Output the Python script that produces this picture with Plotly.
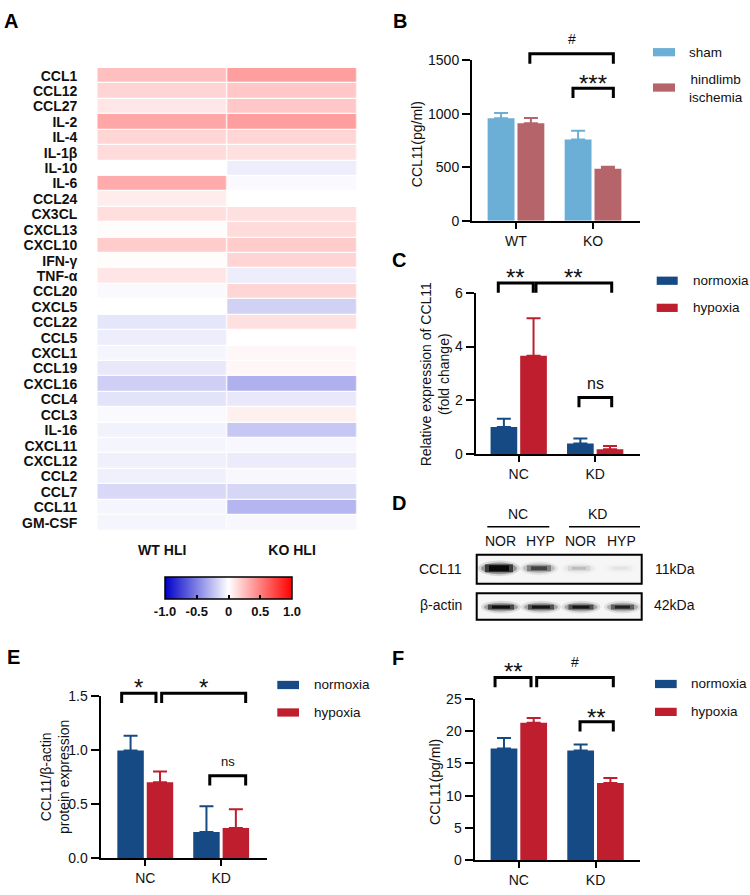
import plotly.graph_objects as go

W, H = 750, 895
FONT = "Liberation Sans, Arial, sans-serif"

# ---------------- DATA ----------------
cytokines = ["CCL1", "CCL12", "CCL27", "IL-2", "IL-4", "IL-1β", "IL-10", "IL-6", "CCL24", "CX3CL",
             "CXCL13", "CXCL10", "IFN-γ", "TNF-α", "CCL20", "CXCL5", "CCL22", "CCL5", "CXCL1", "CCL19",
             "CXCL16", "CCL4", "CCL3", "IL-16", "CXCL11", "CXCL12", "CCL2", "CCL7", "CCL11", "GM-CSF"]
wt_hli = [0.25, 0.17, 0.10, 0.35, 0.16, 0.14, 0.00, 0.33, 0.07, 0.13,
          0.01, 0.20, 0.01, 0.10, -0.02, 0.00, -0.10, -0.07, -0.04, -0.09,
          -0.19, -0.11, -0.02, -0.05, -0.04, -0.06, -0.06, -0.15, -0.04, -0.04]
ko_hli = [0.38, 0.22, 0.22, 0.38, 0.16, 0.12, -0.07, -0.02, 0.00, 0.12,
          0.14, 0.20, 0.17, -0.07, 0.16, -0.18, 0.12, 0.00, 0.03, 0.03,
          -0.31, -0.09, 0.06, -0.22, -0.03, -0.08, -0.03, -0.16, -0.29, -0.03]
heat_cols = ["WT HLI", "KO HLI"]
cbar_ticks = [-1.0, -0.5, 0, 0.5, 1.0]
cbar_labels = ["-1.0", "-0.5", "0", "0.5", "1.0"]

b_groups = ["WT", "KO"]
b_sham_mean = [959, 760]
b_sham_err = [49, 82]
b_hli_mean = [913, 487]
b_hli_err = [49, 18]

c_groups = ["NC", "KD"]
c_norm_mean = [1.00, 0.39]
c_norm_err = [0.31, 0.18]
c_hyp_mean = [3.66, 0.17]
c_hyp_err = [1.39, 0.12]

d_groups = ["NC", "KD"]
d_lanes = ["NOR", "HYP", "NOR", "HYP"]
d_ccl11_band = [1.00, 0.55, 0.13, 0.04]
d_actin_band = [0.92, 0.85, 0.85, 0.75]

e_groups = ["NC", "KD"]
e_norm_mean = [1.00, 0.243]
e_norm_err = [0.136, 0.24]
e_hyp_mean = [0.705, 0.28]
e_hyp_err = [0.10, 0.175]

f_groups = ["NC", "KD"]
f_norm_mean = [17.3, 17.0]
f_norm_err = [1.63, 0.90]
f_hyp_mean = [21.3, 11.97]
f_hyp_err = [0.70, 0.76]

# ---------------- STYLE ----------------
SHAM = "#6BAED6"
HLI = "#B5646A"
NORM = "#164A84"
HYP = "#BE1E2D"


def px(x):
    return x / W


def py(y):
    return 1 - y / H


panels = {
    "B": dict(n=2, xd=(472, 640), yd=(53.3, 216.7), xr=(-0.571, 1.61), yr=(0, 1500), tv=[0, 500, 1000, 1500], fmt=""),
    "C": dict(n=3, xd=(475.5, 640), yd=(290, 454), xr=(-0.565, 1.586), yr=(0, 6), tv=[0, 2, 4, 6], fmt=""),
    "E": dict(n=4, xd=(100.5, 266.7), yd=(701, 865.7), xr=(-0.590, 1.6), yr=(0, 1.5), tv=[0, 0.5, 1, 1.5], fmt=".1f"),
    "F": dict(n=5, xd=(474.5, 640), yd=(703.3, 867.7), xr=(-0.578, 1.58), yr=(0, 25), tv=[0, 5, 10, 15, 20, 25], fmt=""),
}


def to_px(pid, xv, yv):
    p = panels[pid]
    x0, x1 = p["xd"]
    r0, r1 = p["xr"]
    ytop, ybot = p["yd"]
    s0, s1 = p["yr"]
    X = x0 + (xv - r0) / (r1 - r0) * (x1 - x0)
    Y = ybot - (yv - s0) / (s1 - s0) * (ybot - ytop)
    return X, Y


fig = go.Figure()
shapes = []
annotations = []


def text(x, y, s, size=14, xanchor="center", yanchor="middle", bold=False, angle=0, color="#111111"):
    annotations.append(dict(x=px(x), y=py(y), xref="paper", yref="paper", text=s, showarrow=False,
                            xanchor=xanchor, yanchor=yanchor, textangle=angle,
                            font=dict(family=FONT, size=size, color=color, weight="bold" if bold else "normal")))


def rect(x0, y0, x1, y1, fill=None, line=None, lw=0, opacity=1.0, kind="rect"):
    shapes.append(dict(type=kind, xref="paper", yref="paper", x0=px(x0), x1=px(x1), y0=py(y0), y1=py(y1),
                       fillcolor=fill if fill else "rgba(0,0,0,0)",
                       line=dict(color=line if line else "rgba(0,0,0,0)", width=lw), opacity=opacity))


def line(x0, y0, x1, y1, lw=1.5, color="black"):
    shapes.append(dict(type="line", xref="paper", yref="paper", x0=px(x0), x1=px(x1), y0=py(y0), y1=py(y1),
                       line=dict(color=color, width=lw)))


# ---------------- A: heatmap ----------------
fig.add_trace(go.Heatmap(
    z=[[w, k] for w, k in zip(wt_hli, ko_hli)],
    x=heat_cols, y=cytokines,
    colorscale=[[0, "#0000C8"], [0.5, "#FFFFFF"], [1, "#FF0000"]],
    zmin=-1, zmax=1, xgap=1.2, ygap=1.2,
    xaxis="x", yaxis="y",
    colorbar=dict(orientation="h", x=px(228.5), xanchor="center", y=py(579), yanchor="top",
                  len=127, lenmode="pixels", thickness=22, thicknessmode="pixels",
                  outlinewidth=1.5, outlinecolor="black", xpad=0, ypad=0,
                  tickvals=cbar_ticks, ticktext=cbar_labels, ticks="inside", ticklen=4,
                  tickwidth=1.5, tickcolor="black",
                  tickfont=dict(family=FONT, size=13, color="#111111", weight="bold")),
))


# ---------------- bar panels ----------------
def add_bars(pid, groups, series):
    n = panels[pid]["n"]
    for mean, err, color in series:
        fig.add_trace(go.Bar(
            x=groups, y=mean, marker=dict(color=color, line=dict(width=0)),
            error_y=dict(type="data", symmetric=False, array=err, arrayminus=[0] * len(err),
                         color=color, thickness=2, width=7),
            xaxis=f"x{n}", yaxis=f"y{n}", showlegend=False))


add_bars("B", b_groups, [(b_sham_mean, b_sham_err, SHAM), (b_hli_mean, b_hli_err, HLI)])
add_bars("C", c_groups, [(c_norm_mean, c_norm_err, NORM), (c_hyp_mean, c_hyp_err, HYP)])
add_bars("E", e_groups, [(e_norm_mean, e_norm_err, NORM), (e_hyp_mean, e_hyp_err, HYP)])
add_bars("F", f_groups, [(f_norm_mean, f_norm_err, NORM), (f_hyp_mean, f_hyp_err, HYP)])

# significance brackets: (panel, x0, x1, y_top (data), label, font size, glyph gap px)
brackets = [
    ("B", 0.18, 1.264, 1561, "#", 14, 14.7),
    ("B", 0.74, 1.264, 1239, "***", 24, 10.7),
    ("C", -0.267, 0.19, 6.37, "**", 24, 11),
    ("C", 0.226, 1.216, 6.37, "**", 24, 11),
    ("C", 0.788, 1.216, 2.10, "ns", 16, 12.7),
    ("E", -0.311, 0.141, 1.53, "*", 24, 11.7),
    ("E", 0.216, 1.323, 1.53, "*", 24, 11.7),
    ("E", 0.85, 1.323, 0.765, "ns", 13, 13.4),
    ("F", -0.31, 0.159, 28.3, "**", 24, 11.7),
    ("F", 0.233, 1.232, 28.3, "#", 14, 15.7),
    ("F", 0.798, 1.232, 21.45, "**", 24, 10),
]
corr = {"*": 0.226, "#": 0.0, "n": -0.087}
for pid, a, b, yt, lab, fs, gap in brackets:
    X0, Y = to_px(pid, a, yt)
    X1, _ = to_px(pid, b, yt)
    leg = 10
    path = f"M{px(X0)},{py(Y + leg)} L{px(X0)},{py(Y)} L{px(X1)},{py(Y)} L{px(X1)},{py(Y + leg)}"
    shapes.append(dict(type="path", xref="paper", yref="paper", path=path,
                       line=dict(color="black", width=3)))
    gy = Y - gap + corr[lab[0]] * fs
    text((X0 + X1) / 2, gy, lab, size=fs)

# legends (manual swatches)
legends = [
    (653, 675, 687, [(45, "sham", SHAM, 45), (81, "hindlimb<br>ischemia", HLI, 82)]),
    (656.7, 677.7, 690.7, [(277.7, "normoxia", NORM, 277.7), (305.3, "hypoxia", HYP, 305.3)]),
    (277.3, 299, 311.7, [(689.3, "normoxia", NORM, 689.3), (717.3, "hypoxia", HYP, 717.3)]),
    (655, 676.7, 689, [(688.3, "normoxia", NORM, 688.3), (716.7, "hypoxia", HYP, 716.7)]),
]
for x0, x1, tx, items in legends:
    for ys, lab, col, ty in items:
        rect(x0, ys - 4.2, x1, ys + 4.2, fill=col)
        text(tx, ty, lab, size=13.5, xanchor="left")

# axis titles
text(416.7, 139, "CCL11(pg/ml)", size=14, angle=-90)
text(435, 373, "Relative expression of CCL11<br>(fold change)", size=14, angle=-90)
text(55, 783, "CCL11/β-actin<br>protein expression", size=14, angle=-90)
text(435, 788, "CCL11(pg/ml)", size=14, angle=-90)

# ---------------- D: western blot ----------------
lane_x = [500, 540, 580, 621.5]
text(518.3, 515, d_groups[0], size=14)
text(597.3, 515, d_groups[1], size=14)
line(487.3, 528.3, 549.3, 528.3, 1.5)
line(569, 528.3, 640, 528.3, 1.5)
for xc, lab in zip(lane_x, d_lanes):
    text(xc, 542.7, lab, size=14)
text(464, 571.7, "CCL11", size=14, xanchor="right")
text(464, 608.3, "β-actin", size=14, xanchor="right")
text(653, 571.7, "11kDa", size=14, xanchor="left")
text(652, 608.3, "42kDa", size=14, xanchor="left")

boxes = [(556.7, 586.3), (596, 623)]
for y0, y1 in boxes:
    rect(476.7, y0, 641.7, y1, fill="#F6F6F6")


def band(xc, yc, w, h, inten):
    layers = [(w + 10, h + 8, 0.12, "circle"), (w + 4, h + 4, 0.30, "circle"),
              (w - 4, h, 0.60, "rect"), (w - 12, h - 2, 0.85, "rect")]
    for lw, lh, a, kind in layers:
        rect(xc - lw / 2, yc - lh / 2, xc + lw / 2, yc + lh / 2,
             fill="#000000", opacity=min(1.0, a * inten), kind=kind)


ccl11_w = [32, 28, 26, 26]
ccl11_h = [8, 6, 5, 5]
for xc, w, h, inten in zip(lane_x, ccl11_w, ccl11_h, d_ccl11_band):
    band(xc - 1, 570.5, w, h, inten)
actin_w = [30, 30, 29, 27]
for xc, w, inten in zip(lane_x, actin_w, d_actin_band):
    band(xc + 1, 610, w, 5, inten)
for y0, y1 in boxes:
    rect(476.7, y0, 641.7, y1, line="black", lw=2)

# panel letters
for lab, x, y in [("A", 11, 13), ("B", 399.7, 13.3), ("C", 398.7, 256.7), ("D", 399, 503.7),
                  ("E", 13.7, 660.8), ("F", 398.3, 661.7)]:
    text(x, y, lab, size=20, bold=True, color="#000000")

# ---------------- LAYOUT ----------------
tickfont = dict(family=FONT, size=14, color="#111111")
layout = dict(
    width=W, height=H, margin=dict(l=0, r=0, t=0, b=0, pad=0), autosize=False,
    paper_bgcolor="white", plot_bgcolor="white",
    barmode="group", bargap=0.225, bargroupgap=0.1,
    showlegend=False, shapes=shapes, annotations=annotations,
    font=dict(family=FONT, color="#111111"),
    xaxis=dict(domain=[px(97.3), px(357)], anchor="y", showgrid=False, zeroline=False, showline=False,
               ticks="", ticklabelstandoff=10, fixedrange=True,
               tickfont=dict(family=FONT, size=14, color="#111111", weight="bold")),
    yaxis=dict(domain=[py(532), py(61)], anchor="x", autorange="reversed", showgrid=False, zeroline=False,
               showline=False, ticks="", ticklabelstandoff=19, fixedrange=True,
               tickmode="array", tickvals=cytokines, ticktext=cytokines,
               tickfont=dict(family=FONT, size=14, color="#111111", weight="bold")),
)
for pid, p in panels.items():
    n = p["n"]
    layout[f"xaxis{n}"] = dict(domain=[px(p["xd"][0]), px(p["xd"][1])], range=list(p["xr"]), anchor=f"y{n}",
                               type="category", showline=True, linecolor="black", linewidth=2,
                               ticks="outside", ticklen=6, tickwidth=2, tickcolor="black",
                               showgrid=False, zeroline=False, tickfont=tickfont, fixedrange=True)
    layout[f"yaxis{n}"] = dict(domain=[py(p["yd"][1]), py(p["yd"][0])], range=list(p["yr"]), anchor=f"x{n}",
                               tickvals=p["tv"], tickformat=p["fmt"], showline=True, linecolor="black",
                               linewidth=2, ticks="outside", ticklen=8, tickwidth=2, tickcolor="black",
                               showgrid=False, zeroline=False, tickfont=tickfont, fixedrange=True)

fig.update_layout(**layout)
fig.write_html("out.html", config={"displayModeBar": False},
               post_script="document.body.style.margin='0';document.documentElement.style.overflow='hidden';")
